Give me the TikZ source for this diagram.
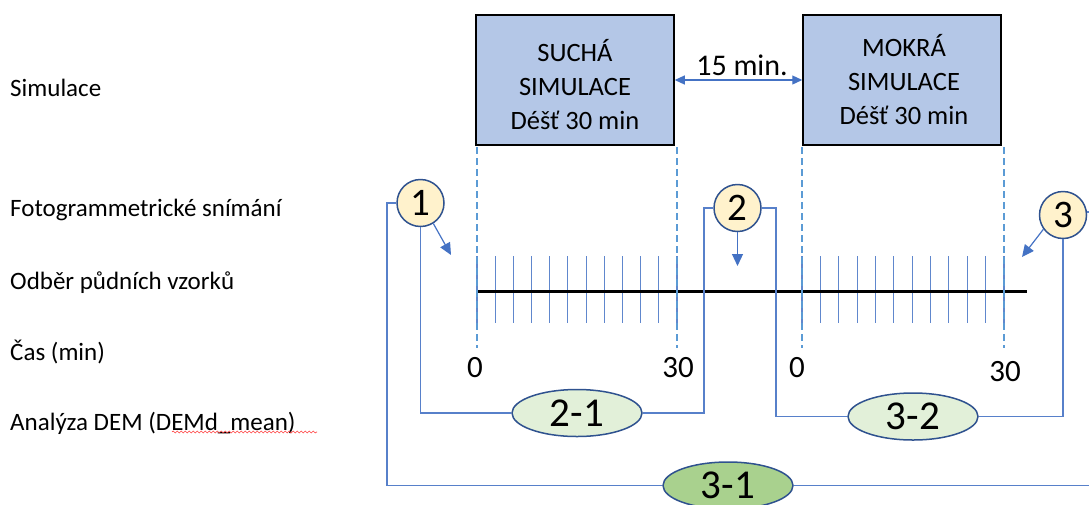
\documentclass[tikz,border=0pt]{standalone}
\usepackage{fontspec}
\setmainfont{Carlito}
\usetikzlibrary{arrows.meta,shapes.geometric,decorations.pathmorphing}
\definecolor{boxblue}{HTML}{B4C7E7}
\definecolor{linkblue}{HTML}{4472C4}
\definecolor{dashblue}{HTML}{5B9BD5}
\definecolor{rimblue}{HTML}{2F528F}
\definecolor{paleyellow}{HTML}{FFF2CC}
\definecolor{palegreen}{HTML}{E2F0D9}
\definecolor{midgreen}{HTML}{A9D18E}
\tikzset{
  rowlabel/.style={anchor=base west, inner sep=0pt, font={\fontsize{25}{30}\selectfont}},
  simbox/.style={draw=black, line width=1.5pt, fill=boxblue, minimum width=198pt, minimum height=130pt, inner sep=0pt},
  boxtext/.style={align=center, inner sep=0pt, font={\fontsize{26.5}{34}\selectfont}},
  guide/.style={dashblue, line width=1.5pt, dash pattern=on 7pt off 4pt},
  tick/.style={linkblue!85, line width=1.1pt},
  axis/.style={black, line width=3pt},
  marker/.style={circle, draw=rimblue, fill=paleyellow, line width=1.5pt, minimum size=47pt, inner sep=0pt, font={\fontsize{39}{40}\selectfont}},
  pair/.style={ellipse, draw=rimblue, fill=palegreen, line width=1.5pt, minimum width=130pt, minimum height=47pt, inner sep=0pt, font={\fontsize{41}{42}\selectfont}},
  link/.style={linkblue!90, line width=1.1pt},
  pointer/.style={linkblue, line width=1.2pt, -{Triangle[length=12pt,width=11pt]}},
  timelabel/.style={inner sep=0pt, font={\fontsize{31}{34}\selectfont}}
}
\begin{document}
\begin{tikzpicture}[x=1pt,y=-1pt]
\useasboundingbox (0,0) rectangle (1089,504);
\clip (0,0) rectangle (1089,504);

% row labels
\node[rowlabel] (lsim) at (10,96) {Simulace};
\node[rowlabel] (lfoto) at (10,216) {Fotogrammetrické snímání};
\node[rowlabel] (lodber) at (10,289) {Odběr půdních vzorků};
\node[rowlabel] (lcas) at (10,360) {Čas (min)};
\node[rowlabel] (ldem) at (10,430) {Analýza DEM (DEMd\_mean)};
\draw[red!75, line width=0.6pt, decorate, decoration={snake, amplitude=1pt, segment length=4pt}] (172,432) -- (317,432);

% simulation boxes
\node[simbox] (dry) at (575,80) {};
\node[boxtext] (drytext) at (575,85) {SUCHÁ\\SIMULACE\\Déšť 30 min};
\node[simbox] (wet) at (902,80) {};
\node[boxtext] (wettext) at (904,80) {MOKRÁ\\SIMULACE\\Déšť 30 min};
\draw[linkblue, line width=1.2pt, {Triangle[length=10pt,width=9pt]}-{Triangle[length=10pt,width=9pt]}] (dry.east) -- (wet.west);
\node[inner sep=0pt, font={\fontsize{30}{34}\selectfont}] (gap) at (742,65) {15 min.};

% time axis
\coordinate (a0) at (477,291);
\coordinate (a30) at (677,291);
\coordinate (b0) at (802,291);
\coordinate (b30) at (1004,291);
\coordinate (top) at (0,147);
\coordinate (bot) at (0,348);
\foreach \i in {0,...,11} {
  \draw[tick] (477+\i*18.18,256) -- (477+\i*18.18,323);
  \draw[tick] (802+\i*18.36,256) -- (802+\i*18.36,323);
}
\coordinate (aend) at (1027,291);
\draw[axis] (a0) -- (aend);
\foreach \p in {a0,a30,b0,b30} \draw[guide] (\p |- top) -- (\p |- bot);

\node[timelabel] (t1) at (475,368) {0};
\node[timelabel] (t2) at (678,368) {30};
\node[timelabel] (t3) at (797,368) {0};
\node[timelabel] (t4) at (1005,372) {30};

% survey markers
\node[marker] (c1) at (420.5,203) {1};
\node[marker] (c2) at (737.5,208) {2};
\node[marker] (c3) at (1063,215) {3};
\coordinate (p1) at (451,255);
\coordinate (p2) at (737.5,266);
\coordinate (p3) at (1022,257);
\draw[pointer] (c1.-58) -- (p1);
\draw[pointer] (c2.south) -- (p2);
\draw[pointer] (c3.-144) -- (p3);

% DEM comparisons
\node[pair] (e21) at (577,413) {2-1};
\node[pair] (e32) at (913,416.5) {3-2};
\node[pair, fill=midgreen] (e31) at (728,485.5) {3-1};
\coordinate (j1) at (387,203);
\coordinate (j2) at (704,208);
\coordinate (j3) at (776,208);
\coordinate (j4) at (1110,212);
\draw[link] (c1.south) |- (e21.west);
\draw[link] (e21.east) -| (j2) -- (c2.west);
\draw[link] (c2.east) -- (j3) |- (e32.west);
\draw[link] (e32.east) -| (c3.south);
\draw[link] (c1.west) -- (j1) |- (e31.west);
\draw[link] (c3.east |- j4) -- (j4) |- (e31.east);
\end{tikzpicture}
\end{document}
